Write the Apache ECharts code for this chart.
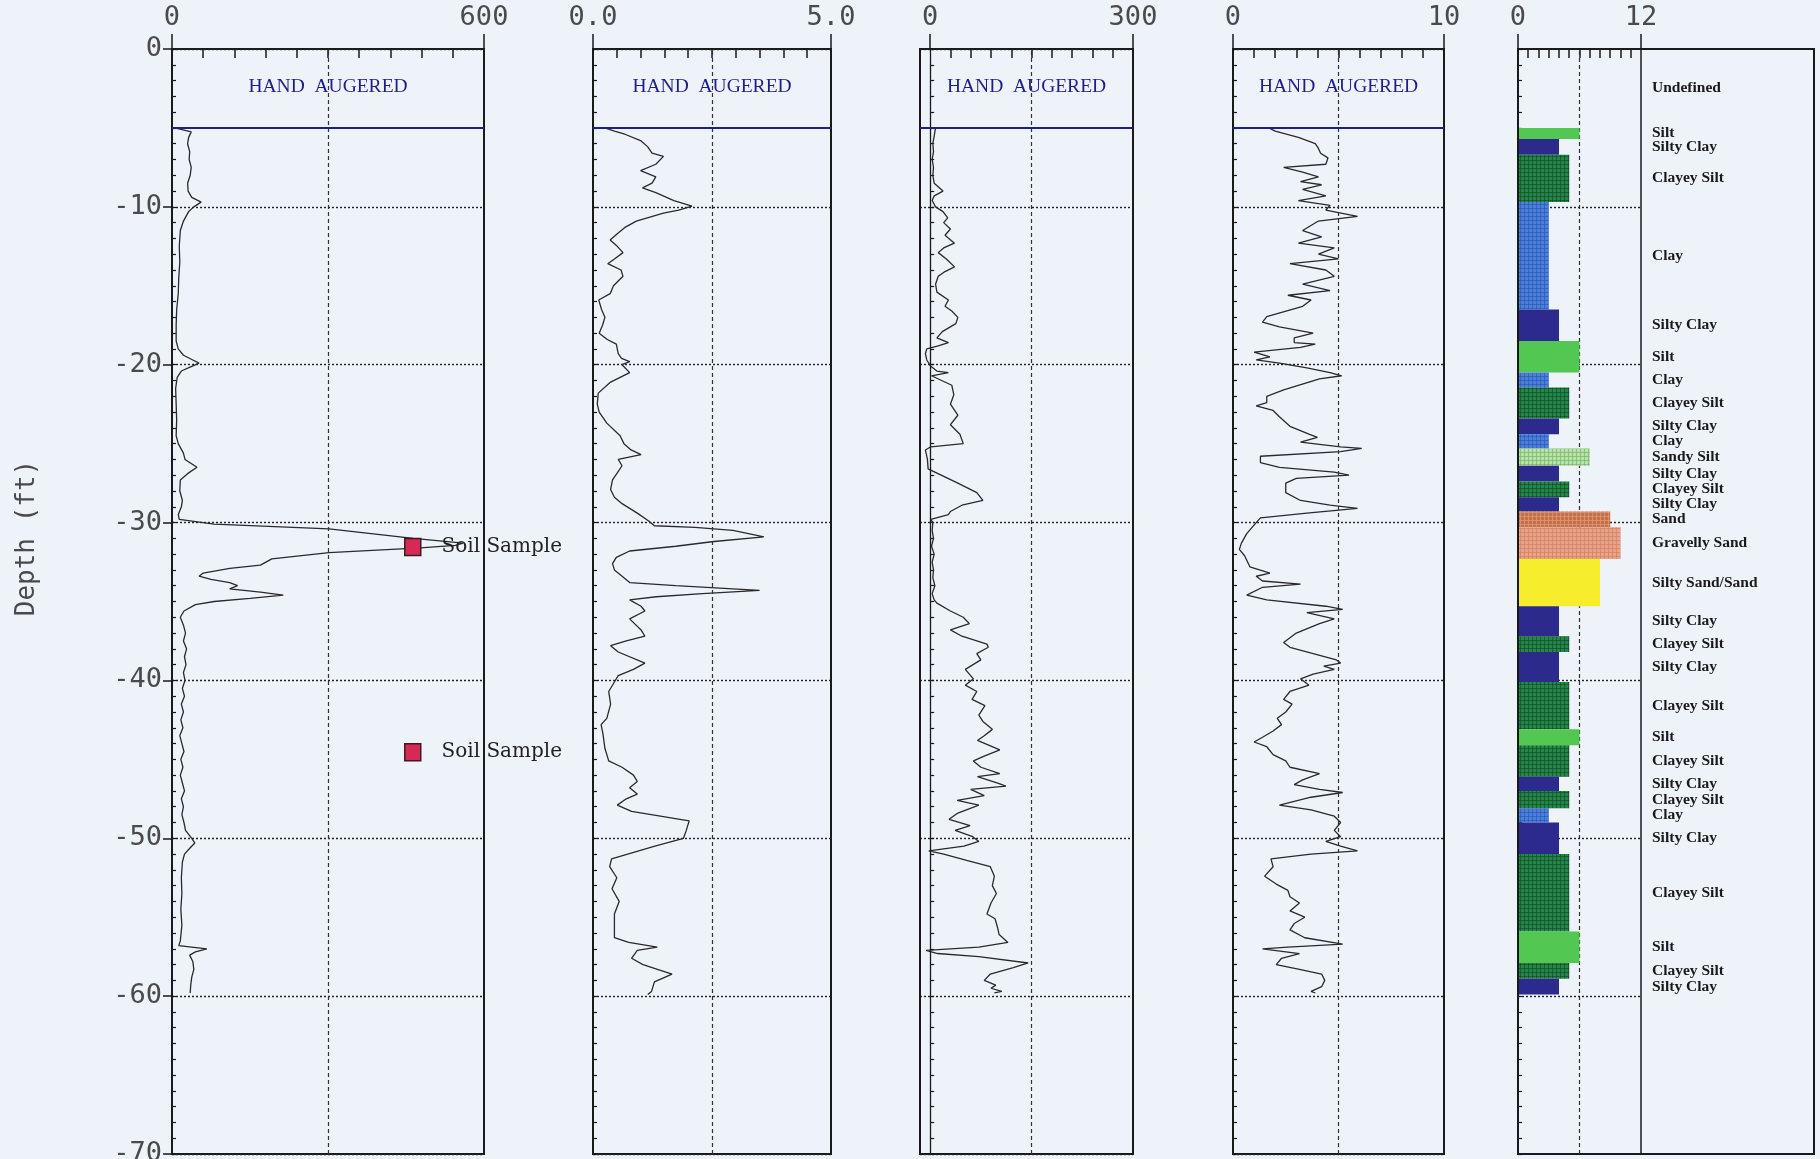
<!DOCTYPE html>
<html><head><meta charset="utf-8">
<script src="https://cdn.jsdelivr.net/npm/echarts@6/dist/echarts.min.js"></script>
<style>html,body{margin:0;padding:0;background:#eef2f9;}#c{width:1820px;height:1159px;}</style>
</head><body><div id="c"></div>
<script>
// ---------------- DATA ----------------
// depth (ft, positive downward) , value
const qcProfile = [[5.0,5],[5.25,37],[5.6,32],[6.0,30],[6.5,34],[7.0,33],[7.5,37],[8.0,35],[8.5,30],[9.0,31],[9.4,38],[9.7,56],[10.0,42],[10.3,32],[10.9,22],[11.5,16],[12.5,14],[13.5,15],[14.5,13],[15.5,12],[16.5,9],[17.5,8],[18.5,8],[19.0,12],[19.4,22],[19.7,40],[19.9,52],[20.1,38],[20.4,18],[20.8,10],[21.5,7],[22.5,8],[23.5,9],[24.5,8],[25.0,12],[25.6,22],[26.0,25],[26.5,48],[26.9,30],[27.3,16],[28.0,15],[28.6,20],[29.0,18],[29.5,12],[29.8,14],[30.1,81],[30.4,302],[31.0,464],[31.3,560],[31.45,545],[31.6,478],[31.9,302],[32.3,192],[32.7,170],[32.9,111],[33.2,60],[33.4,52],[33.6,75],[33.8,111],[34.0,126],[34.2,111],[34.4,170],[34.6,214],[34.8,150],[35.0,81],[35.2,45],[35.6,23],[36.0,16],[36.5,22],[37.0,26],[37.5,22],[38.0,28],[38.5,24],[39.0,27],[39.5,22],[40.0,25],[40.5,20],[41.0,24],[41.5,18],[42.0,22],[42.5,17],[43.0,21],[43.5,15],[44.0,19],[44.5,23],[45.0,17],[45.5,21],[46.0,16],[46.5,20],[47.0,24],[47.5,18],[48.0,22],[48.5,19],[49.0,23],[49.5,26],[50.0,38],[50.3,44],[50.6,35],[51.0,24],[51.5,20],[52.5,18],[53.5,19],[54.5,17],[55.5,19],[56.5,16],[56.8,13],[57.0,67],[57.2,45],[57.4,34],[57.8,40],[58.3,42],[58.8,38],[59.3,36],[59.8,35]];

const frProfile = [[5.0,0.25],[5.2,0.45],[5.4,0.67],[5.8,1.0],[6.2,1.15],[6.6,1.24],[6.8,1.48],[7.3,1.32],[7.7,1.0],[8.1,1.32],[8.5,1.24],[8.8,1.04],[9.1,1.32],[9.6,1.7],[9.96,2.08],[10.2,1.8],[10.4,1.48],[10.9,0.91],[11.3,0.67],[11.7,0.51],[12.1,0.36],[12.5,0.51],[12.9,0.63],[13.3,0.45],[13.6,0.31],[14.0,0.59],[14.4,0.63],[15.0,0.43],[15.5,0.36],[15.9,0.12],[16.5,0.18],[17.0,0.25],[17.5,0.2],[18.0,0.13],[18.4,0.3],[18.7,0.49],[19.3,0.53],[19.6,0.6],[19.8,0.77],[20.0,0.61],[20.5,0.77],[21.1,0.37],[21.8,0.11],[22.5,0.09],[23.0,0.13],[23.7,0.29],[24.5,0.57],[25.0,0.65],[25.4,0.8],[25.7,1.01],[26.0,0.53],[26.4,0.61],[26.9,0.5],[27.3,0.41],[27.9,0.37],[28.4,0.45],[28.8,0.61],[29.4,0.93],[29.9,1.17],[30.2,1.29],[30.3,2.14],[30.5,2.94],[30.9,3.59],[31.2,2.54],[31.5,1.74],[31.8,0.77],[32.2,0.49],[32.6,0.41],[33.0,0.45],[33.5,0.65],[33.8,0.77],[34.0,1.74],[34.2,2.94],[34.3,3.5],[34.5,2.3],[34.7,1.33],[34.9,0.77],[35.3,1.01],[35.6,1.09],[36.1,0.77],[36.8,1.01],[37.2,1.09],[37.5,0.7],[37.8,0.37],[38.2,0.53],[38.9,1.09],[39.3,0.85],[39.7,0.53],[40.1,0.45],[40.7,0.33],[41.5,0.37],[42.4,0.29],[42.8,0.17],[43.4,0.21],[44.3,0.25],[45.1,0.33],[45.5,0.61],[46.0,0.85],[46.4,0.93],[46.8,0.77],[47.2,0.93],[47.5,0.7],[47.9,0.51],[48.3,0.81],[48.9,2.02],[49.5,1.96],[50.0,1.9],[50.5,1.3],[51.3,0.39],[51.8,0.35],[52.5,0.5],[53.2,0.4],[54.0,0.55],[54.8,0.45],[55.5,0.45],[56.3,0.45],[56.6,0.75],[56.9,1.35],[57.1,0.93],[57.6,0.81],[58.0,1.05],[58.6,1.66],[59.1,1.29],[59.7,1.23],[59.9,1.15]];

const u2Profile = [[5.0,8],[5.5,6],[6.0,4],[6.5,5],[7.0,3],[7.5,5],[8.0,4],[8.5,6],[9.0,19],[9.3,6],[9.6,3],[10.0,8],[10.3,19],[10.7,26],[11.0,20],[11.4,30],[11.8,22],[12.3,36],[12.6,20],[12.9,12],[13.3,24],[13.8,36],[14.1,22],[14.4,12],[14.9,8],[15.4,10],[15.9,27],[16.3,22],[16.6,32],[17.0,41],[17.4,38],[17.9,18],[18.3,10],[18.6,27],[18.8,12],[19.0,-5],[19.3,-7],[19.7,-5],[20.1,1],[20.4,10],[20.5,27],[20.7,2],[21.3,32],[21.9,35],[22.5,30],[23.2,41],[23.8,30],[24.4,44],[25.0,49],[25.2,1],[25.4,-7],[26.0,-4],[26.6,-3],[26.8,7],[27.5,41],[28.1,69],[28.6,78],[28.9,47],[29.3,30],[29.5,27],[29.8,1],[30.0,4],[30.5,3],[31.0,5],[31.5,2],[32.0,6],[32.5,3],[33.0,5],[33.5,4],[34.0,7],[34.5,3],[34.9,6],[35.1,10],[35.6,30],[36.0,49],[36.4,58],[36.8,30],[37.2,47],[37.7,84],[37.9,86],[38.3,69],[38.7,75],[39.3,52],[39.9,64],[40.3,52],[40.7,69],[41.2,62],[41.6,81],[42.2,72],[42.6,78],[43.1,92],[43.5,80],[43.8,70],[44.4,103],[44.8,80],[45.1,64],[45.5,75],[45.9,103],[46.1,70],[46.5,100],[46.7,112],[46.9,60],[47.3,80],[47.6,40],[47.9,72],[48.4,41],[48.8,28],[49.2,59],[49.5,37],[49.9,63],[50.2,72],[50.5,50],[50.8,-2],[51.0,20],[51.4,54],[51.8,89],[52.4,95],[53.0,92],[53.5,98],[54.1,90],[54.8,84],[55.1,96],[55.7,100],[56.1,102],[56.6,115],[56.9,72],[57.1,-6],[57.3,11],[57.5,72],[57.9,145],[58.2,123],[58.6,89],[59.0,80],[59.3,97],[59.5,90],[59.7,106],[59.8,95]];

const fsProfile = [[5.0,1.7],[5.2,2.0],[5.6,3.1],[6.0,3.9],[6.3,4.05],[6.6,4.15],[6.9,4.5],[7.3,4.4],[7.5,2.4],[7.8,3.3],[8.1,4.05],[8.4,3.2],[8.6,4.2],[8.9,3.3],[9.3,4.4],[9.6,3.1],[9.9,4.6],[10.2,4.4],[10.6,5.9],[10.9,4.05],[11.5,3.3],[11.9,4.2],[12.3,3.1],[12.6,4.8],[13.0,4.05],[13.3,5.0],[13.6,2.7],[14.0,4.4],[14.4,4.8],[14.9,3.3],[15.3,4.6],[15.6,2.6],[15.9,3.7],[16.3,3.3],[16.95,1.6],[17.3,1.4],[17.6,2.2],[18.0,3.8],[18.3,2.9],[18.6,2.9],[18.7,3.9],[18.9,3.2],[19.2,1.0],[19.5,1.75],[19.7,1.1],[19.9,2.2],[20.2,3.5],[20.5,4.6],[20.7,5.15],[20.9,4.1],[21.6,2.4],[22.0,1.6],[22.4,1.6],[22.6,1.1],[22.9,1.9],[23.3,2.2],[23.9,2.7],[24.4,3.6],[24.6,4.0],[24.9,3.2],[25.2,5.1],[25.3,6.1],[25.5,5.1],[25.8,1.3],[26.2,1.3],[26.5,2.2],[26.8,4.8],[27.0,5.5],[27.2,3.0],[27.5,2.5],[28.1,2.5],[28.6,3.2],[28.9,4.6],[29.1,5.9],[29.4,3.5],[29.7,1.3],[30.0,1.1],[30.7,0.65],[31.3,0.4],[31.7,0.3],[32.1,0.55],[32.8,0.8],[33.2,1.75],[33.4,1.1],[33.7,1.4],[33.9,3.2],[34.1,1.4],[34.6,0.65],[34.9,1.6],[35.3,4.4],[35.5,5.2],[35.7,3.5],[36.1,4.8],[36.4,4.1],[37.0,3.0],[37.6,2.4],[37.9,2.7],[38.3,3.8],[38.7,4.9],[38.9,5.1],[39.1,4.3],[39.3,4.8],[39.6,3.8],[39.9,3.2],[40.3,3.6],[40.7,2.7],[41.2,2.4],[41.5,2.8],[42.0,2.5],[42.4,2.1],[42.8,2.3],[43.2,1.9],[43.6,1.4],[43.9,1.0],[44.2,1.6],[44.7,1.9],[45.1,2.5],[45.5,2.7],[45.9,4.1],[46.3,3.3],[46.6,2.9],[46.9,4.1],[47.1,5.2],[47.4,3.7],[47.9,2.2],[48.2,3.7],[48.6,4.8],[49.0,5.1],[49.5,4.8],[49.9,5.1],[50.2,4.4],[50.5,5.1],[50.8,5.9],[51.0,3.7],[51.3,1.8],[51.8,1.9],[52.4,1.5],[52.9,2.05],[53.3,2.6],[53.7,2.7],[54.1,3.15],[54.6,2.7],[55.0,3.4],[55.4,2.9],[55.8,2.7],[56.3,3.4],[56.7,5.2],[56.9,2.6],[57.0,1.4],[57.3,3.15],[57.6,2.3],[58.0,2.05],[58.3,3.15],[58.6,4.2],[59.0,4.35],[59.4,4.2],[59.7,3.7],[59.8,3.9]];

const soilSamples = [[31.55,463],[44.55,463]]; // depth, qc position

const soilTop  = [0,5.0,5.7,6.7,9.7,16.5,18.5,20.5,21.45,23.4,24.4,25.3,26.4,27.4,28.4,29.3,30.3,32.3,35.3,37.2,38.2,40.1,43.1,44.1,46.1,47.0,48.1,49.0,51.0,55.9,57.9,58.9];
const soilBase = [5.0,5.7,6.7,9.7,16.5,18.5,20.5,21.45,23.4,24.4,25.3,26.4,27.4,28.4,29.3,30.3,32.3,35.3,37.2,38.2,40.1,43.1,44.1,46.1,47.0,48.1,49.0,51.0,55.9,57.9,58.9,59.9];
const soilType = ['Undefined','Silt','Silty Clay','Clayey Silt','Clay','Silty Clay','Silt','Clay','Clayey Silt','Silty Clay','Clay','Sandy Silt','Silty Clay','Clayey Silt','Silty Clay','Sand','Gravelly Sand','Silty Sand/Sand','Silty Clay','Clayey Silt','Silty Clay','Clayey Silt','Silt','Clayey Silt','Silty Clay','Clayey Silt','Clay','Silty Clay','Clayey Silt','Silt','Clayey Silt','Silty Clay'];
const soilZone = {'Undefined':0,'Clay':3,'Silty Clay':4,'Clayey Silt':5,'Silt':6,'Sandy Silt':7,'Silty Sand/Sand':8,'Sand':9,'Gravelly Sand':10};

const depthTicks = [0,-10,-20,-30,-40,-50,-60,-70];
const qcTicks = [0,600], frTicks = [0,5], u2Ticks = [0,300], fsTicks = [0,10], sbtTicks = [0,12];
const frTickText = ['0.0','5.0'];
const handAugerDepth = 5;

// ---------------- STYLE ----------------
const soilColor = {'Clay':'#4a80dc','Silty Clay':'#2d2a8e','Clayey Silt':'#24874a','Silt':'#52c852','Sandy Silt':'#b4e4a4','Silty Sand/Sand':'#f6ee2c','Sand':'#c4704a','Gravelly Sand':'#eba285'};
const soilDots = {'Clay':'rgba(30,70,160,0.45)','Clayey Silt':'rgba(20,60,30,0.55)','Sandy Silt':'rgba(120,170,110,0.6)','Sand':'rgba(230,160,120,0.6)','Gravelly Sand':'rgba(200,120,100,0.55)'};
function makePattern(base, dot) {
  const c = document.createElement('canvas'); c.width = 4; c.height = 4;
  const g = c.getContext('2d');
  g.fillStyle = base; g.fillRect(0, 0, 4, 4);
  g.fillStyle = dot; g.fillRect(0, 0, 1, 4); g.fillRect(0, 0, 4, 1);
  return {image:c, repeat:'repeat'};
}
const soilFill = {};
Object.keys(soilColor).forEach(k => { soilFill[k] = soilDots[k] ? makePattern(soilColor[k], soilDots[k]) : soilColor[k]; });

const monoFont = 'DejaVu Sans Mono';
const ink = '#1a1a1a';
const navy = '#1f1f8a';

const panels = [
  {left:172, width:312, min:0,   max:600,  step:60,  ticks:qcTicks,  text:v=>String(v), mid:300, data:qcProfile},
  {left:593, width:238, min:0,   max:5,    step:0.5, ticks:frTicks,  text:v=>frTickText[frTicks.indexOf(v)], mid:2.5, data:frProfile},
  {left:920, width:213, min:-15, max:300,  step:30,  ticks:u2Ticks,  text:v=>String(v), mid:150, data:u2Profile, zeroLine:true},
  {left:1233,width:211, min:0,   max:10,   step:1,   ticks:fsTicks,  text:v=>String(v), mid:5, data:fsProfile},
  {left:1518,width:296, min:0,   max:28.88,step:1,   ticks:sbtTicks, text:v=>String(v), mid:6, data:null}
];

const grid = [], xAxis = [], yAxis = [], series = [];
panels.forEach((p, i) => {
  grid.push({left:p.left, top:49, width:p.width, height:1105, show:true, borderColor:ink, borderWidth:2, backgroundColor:'transparent', containLabel:false, outerBoundsMode:'none'});
  const minor = [];
  for (let k = 1; p.step * k < p.ticks[1] - 1e-9; k++) minor.push(+(p.step * k).toFixed(4));
  xAxis.push({gridIndex:i, type:'value', position:'top', min:p.min, max:p.max,
    axisLine:{show:false}, splitLine:{show:false}, axisLabel:{show:false},
    axisTick:{show:true, inside:true, length:9, customValues:minor, lineStyle:{color:ink, width:1.5}}});
  xAxis.push({gridIndex:i, type:'value', position:'top', min:p.min, max:p.max,
    axisLine:{show:false}, splitLine:{show:false},
    axisTick:{show:true, inside:false, length:15, customValues:p.ticks, lineStyle:{color:ink, width:1.5}},
    axisLabel:{show:true, customValues:p.ticks, formatter:v=>p.text(v), margin:18, fontFamily:monoFont, fontSize:27, color:'#4a4a4a'}});
  yAxis.push({gridIndex:i, type:'value', position:'left', min:-70, max:0, interval:1,
    axisLine:{show:false}, splitLine:{show:false}, axisLabel:{show:false},
    axisTick:{show:true, inside:true, length:4, lineStyle:{color:ink, width:1.2}}});
  yAxis.push({gridIndex:i, type:'value', position:'left', min:-70, max:0, interval:10,
    axisLine:{show:false},
    splitLine:{show:i < 4, lineStyle:{type:[2,2], color:'#222', width:1.4}},
    axisTick:{show:i === 0, inside:false, length:9, lineStyle:{color:ink, width:1.5}},
    axisLabel:{show:i === 0, margin:10, fontFamily:monoFont, fontSize:27, color:'#4a4a4a'}});

  const ml = [{xAxis:p.mid, lineStyle:{type:[4,3], color:'#333', width:1.2}}];
  if (p.zeroLine) ml.push({xAxis:0, lineStyle:{type:'solid', color:ink, width:1.3}});
  if (p.data) {
    ml.push({yAxis:-handAugerDepth, lineStyle:{type:'solid', color:navy, width:2.2}});
    series.push({type:'line', xAxisIndex:2*i, yAxisIndex:2*i, showSymbol:false, symbol:'none', silent:true,
      data:p.data.map(d => [d[1], -d[0]]),
      lineStyle:{color:'#2a2a2a', width:1.3}, z:3,
      markLine:{symbol:'none', silent:true, label:{show:false}, animation:false, data:ml},
      markPoint:{silent:true, animation:false, data:[{coord:[(p.min + p.max) / 2, -2.4], symbol:'circle', symbolSize:1,
        itemStyle:{color:'rgba(0,0,0,0)'},
        label:{show:true, position:'inside', formatter:'HAND  AUGERED', fontFamily:'Liberation Serif', fontSize:19.5, color:navy}}]}
    });
  } else {
    const hl = depthTicks.slice(1, -1).map(d => [{coord:[0, d]}, {coord:[12, d]}]);
    ml.push({xAxis:12, lineStyle:{type:'solid', color:ink, width:1.5}});
    series.push({type:'scatter', xAxisIndex:2*i, yAxisIndex:2*i, data:[[0,-70]], symbolSize:0, silent:true, z:1,
      markLine:{symbol:'none', silent:true, label:{show:false}, animation:false,
        data: ml.concat(hl.map(h => [Object.assign({lineStyle:{type:[2,2], color:'#222', width:1.4}}, h[0]), h[1]]))}});
  }
});

// soil sample markers on panel 1
series.push({type:'scatter', xAxisIndex:0, yAxisIndex:0, z:6, silent:true,
  data:soilSamples.map(s => [s[1], -s[0]]),
  symbol:'rect', symbolSize:[16,17],
  itemStyle:{color:'#d42a55', borderColor:'#3a1a22', borderWidth:1.5, opacity:1},
  label:{show:true, position:'right', distance:20, formatter:'Soil Sample', fontFamily:'DejaVu Serif', fontSize:20, color:'#222'}});

// soil behaviour type column
const labelDepth = [];
soilTop.forEach((t, k) => {
  let c = (t + soilBase[k]) / 2;
  if (k > 0 && c - labelDepth[k - 1] < 0.8) c = labelDepth[k - 1] + 0.8;
  labelDepth.push(c);
});
const sbtData = soilType.map((t, k) => [soilZone[t], -soilTop[k], -soilBase[k], -labelDepth[k], k]);
series.push({type:'custom', xAxisIndex:8, yAxisIndex:8, z:5, silent:true, data:sbtData,
  encode:{x:0, y:[1,2]},
  renderItem:(params, api) => {
    const zone = api.value(0), top = api.value(1), base = api.value(2), ly = api.value(3), k = api.value(4);
    const a = api.coord([0, top]), b = api.coord([zone, base]), t = api.coord([12, ly]);
    const ch = [];
    if (zone > 0) ch.push({type:'rect', shape:{x:a[0] + 1, y:a[1], width:b[0] - a[0] - 1, height:b[1] - a[1]}, style:{fill:soilFill[soilType[k]]}});
    ch.push({type:'text', style:{text:soilType[k], x:t[0] + 11, y:t[1], align:'left', verticalAlign:'middle', textAlign:'left', textVerticalAlign:'middle',
      font:'bold 15.5px "Liberation Serif", serif', fill:'#1a1a1a'}});
    return {type:'group', children:ch};
  }});

const chart = echarts.init(document.getElementById('c'), null, {renderer:'canvas'});
chart.setOption({
  animation:false,
  backgroundColor:'#eef2f9',
  grid, xAxis, yAxis, series,
  graphic:[{type:'text', x:27, y:538, rotation:Math.PI / 2,
    style:{text:'Depth (ft)', font:'26px "DejaVu Sans Mono"', fill:'#4a4a4a', align:'center', verticalAlign:'middle', textAlign:'center', textVerticalAlign:'middle'}}]
});
</script></body></html>
